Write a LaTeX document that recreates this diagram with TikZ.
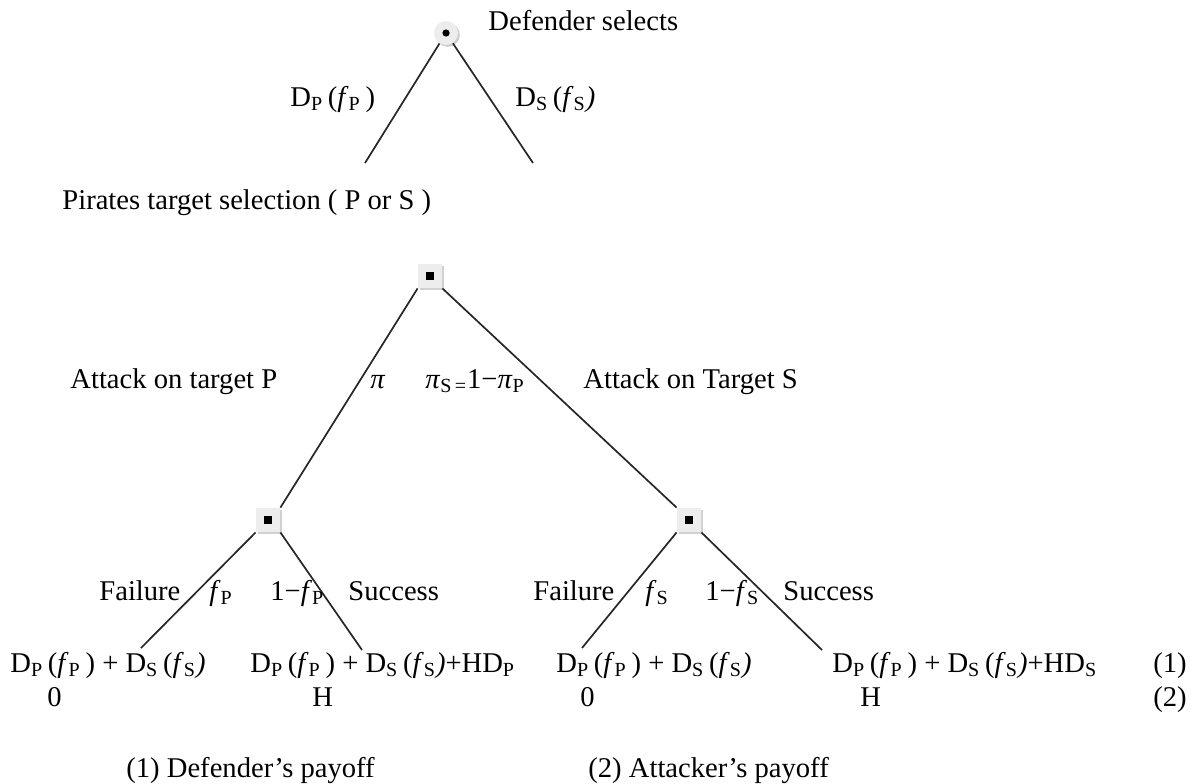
\documentclass[tikz,border=0pt]{standalone}
\usepackage{fontspec}
\setmainfont{Liberation Serif}
\usetikzlibrary{shadows}
\newcommand{\Dp}{D\textsubscript{P}\,(\textit{f}\textsubscript{P}\,)}
\newcommand{\Ds}{D\textsubscript{S}\,(\textit{f}\textsubscript{S}\textit{)}}
\begin{document}
\begin{tikzpicture}[x=0.5pt,y=-0.5pt,
  txt/.style={inner sep=0pt,anchor=base west,font=\fontsize{14.3}{17}\selectfont},
  chance/.style={circle,minimum size=12pt,inner sep=0pt,fill=black!7,
    drop shadow={shadow xshift=0.9pt,shadow yshift=-0.9pt,fill=black!20,opacity=1}},
  decision/.style={rectangle,minimum size=12pt,inner sep=0pt,fill=black!7,
    drop shadow={shadow xshift=0.9pt,shadow yshift=-0.9pt,fill=black!18,opacity=1}},
  edge/.style={line width=0.85pt,black!85}]
\useasboundingbox (0,0) rectangle (1197,783);

% defender's choice
\node[chance] (root) at (446,33) {};
\fill (root.center) circle (1.8pt);
\coordinate (rl) at (365,163);
\coordinate (rr) at (533,163);
\draw[edge] (root) -- (rl);
\draw[edge] (root) -- (rr);
\node[txt] (defsel) at (488,30) {Defender selects};
\node[txt] (dpl) at (290,106) {\Dp};
\node[txt] (dsl) at (515,106) {\Ds};
\node[txt] (pts) at (62,209) {Pirates target selection ( P or S )};

% pirates' choice
\node[decision] (top) at (430,276) {};
\node[decision] (tp) at (268,520) {};
\node[decision] (ts) at (689,520) {};
\foreach \n in {top,tp,ts} \fill ([xshift=-2pt,yshift=-2pt]\n.center) rectangle ([xshift=2pt,yshift=2pt]\n.center);
\draw[edge] (top.south west) -- (tp.north east);
\draw[edge] (top.south east) -- (ts.north west);
\node[txt] (atp) at (70,388) {Attack on target P};
\node[txt] (pi) at (370,388) {\textit{π}};
\node[txt] (pis) at (425,388) {\textit{π}\textsubscript{S\,=}1−\textit{π}\textsubscript{P}};
\node[txt] (ats) at (583,388) {Attack on Target S};

% outcomes
\coordinate (o1) at (141,648);
\coordinate (o2) at (362,650);
\coordinate (o3) at (582,648);
\coordinate (o4) at (822,650);
\draw[edge] (tp.south west) -- (o1);
\draw[edge] (tp.south east) -- (o2);
\draw[edge] (ts.south west) -- (o3);
\draw[edge] (ts.south east) -- (o4);
\node[txt] (f1) at (99,600) {Failure};
\node[txt] (fp) at (209,600) {\textit{f}\textsubscript{P}};
\node[txt] (gp) at (270,600) {1−\textit{f}\textsubscript{P}};
\node[txt] (s1) at (348,600) {Success};
\node[txt] (f2) at (533,600) {Failure};
\node[txt] (fs) at (645,600) {\textit{f}\textsubscript{S}};
\node[txt] (gs) at (705,600) {1−\textit{f}\textsubscript{S}};
\node[txt] (s2) at (783,600) {Success};

% payoffs
\node[txt] (p1) at (10,672) {\Dp{} + \Ds};
\node[txt] (p2) at (250,672) {\Dp{} + \Ds+HD\textsubscript{P}};
\node[txt] (p3) at (556,672) {\Dp{} + \Ds};
\node[txt] (p4) at (832,672) {\Dp{} + \Ds+HD\textsubscript{S}};
\node[txt] (l1) at (1153,672) {(1)};
\node[txt] (q1) at (47,706) {0};
\node[txt] (q2) at (312,706) {H};
\node[txt] (q3) at (580,706) {0};
\node[txt] (q4) at (860,706) {H};
\node[txt] (l2) at (1153,706) {(2)};
\node[txt] (k1) at (126,777) {(1) Defender’s payoff};
\node[txt] (k2) at (588,777) {(2) Attacker’s payoff};
\end{tikzpicture}
\end{document}
